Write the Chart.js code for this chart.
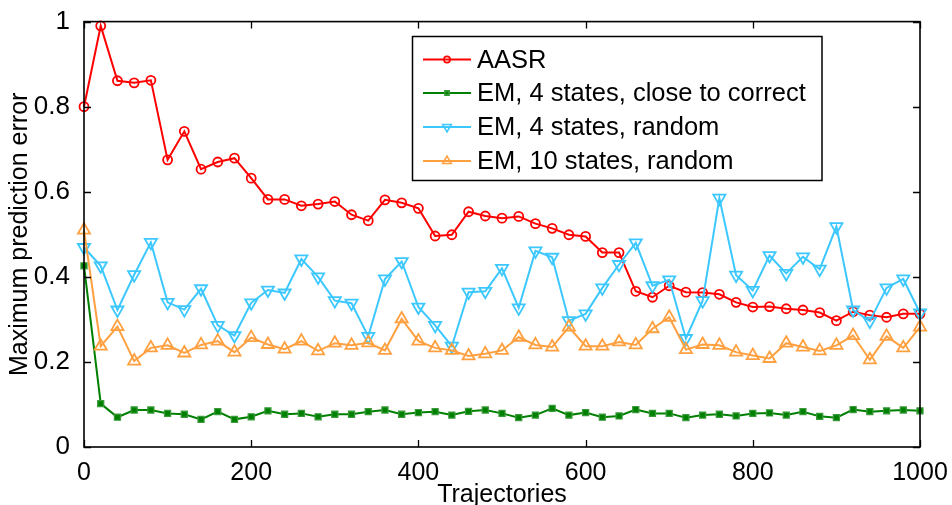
<!DOCTYPE html>
<html>
<head>
<meta charset="utf-8">
<script src="https://cdn.jsdelivr.net/npm/chart.js@4.4.0/dist/chart.umd.min.js"></script>
<style>
  html, body { margin: 0; padding: 0; background: #fff; }
  #wrap { width: 952px; height: 505px; }
</style>
</head>
<body>
<div id="wrap"><canvas id="myChart" width="952" height="505"></canvas></div>
<script>
const trajectories = [0, 20, 40, 60, 80, 100, 120, 140, 160, 180, 200, 220, 240, 260, 280, 300, 320, 340, 360, 380,
  400, 420, 440, 460, 480, 500, 520, 540, 560, 580, 600, 620, 640, 660, 680, 700, 720, 740, 760, 780,
  800, 820, 840, 860, 880, 900, 920, 940, 960, 980, 1000]

const aasr = [0.800, 0.990, 0.861, 0.856, 0.862, 0.675, 0.742, 0.653, 0.670, 0.679, 0.632, 0.582, 0.582, 0.567, 0.571, 0.577, 0.546,
  0.532, 0.581, 0.574, 0.561, 0.496, 0.499, 0.553, 0.543, 0.538, 0.542, 0.525, 0.514, 0.499, 0.495, 0.457, 0.457,
  0.366, 0.352, 0.379, 0.364, 0.363, 0.359, 0.340, 0.329, 0.330, 0.325, 0.322, 0.316, 0.297, 0.318, 0.310, 0.305, 0.313, 0.313]

const em4Close = [0.426, 0.102, 0.070, 0.087, 0.087, 0.079, 0.077, 0.065, 0.083, 0.065, 0.071, 0.085, 0.077, 0.079, 0.071, 0.077, 0.077,
  0.083, 0.087, 0.077, 0.081, 0.083, 0.075, 0.084, 0.087, 0.079, 0.069, 0.075, 0.091, 0.075, 0.081, 0.070, 0.073,
  0.088, 0.079, 0.079, 0.069, 0.075, 0.077, 0.073, 0.079, 0.080, 0.075, 0.083, 0.072, 0.069, 0.088, 0.083, 0.085, 0.087, 0.085]

const em4Random = [0.469, 0.426, 0.322, 0.405, 0.481, 0.340, 0.323, 0.372, 0.286, 0.262, 0.339, 0.369, 0.362, 0.442, 0.400, 0.344, 0.338,
  0.260, 0.395, 0.436, 0.329, 0.286, 0.237, 0.364, 0.366, 0.420, 0.327, 0.461, 0.446, 0.297, 0.313, 0.374, 0.429,
  0.480, 0.379, 0.393, 0.255, 0.344, 0.585, 0.404, 0.368, 0.450, 0.408, 0.447, 0.418, 0.518, 0.322, 0.296, 0.374, 0.395, 0.315]

const em10Random = [0.510, 0.237, 0.283, 0.202, 0.233, 0.239, 0.221, 0.240, 0.249, 0.223, 0.257, 0.241, 0.230, 0.249, 0.226, 0.244, 0.239,
  0.245, 0.227, 0.301, 0.249, 0.233, 0.227, 0.214, 0.219, 0.227, 0.258, 0.240, 0.235, 0.282, 0.237, 0.237, 0.247,
  0.240, 0.278, 0.305, 0.229, 0.241, 0.239, 0.223, 0.215, 0.208, 0.244, 0.235, 0.226, 0.239, 0.262, 0.205, 0.260, 0.233, 0.282]

const seriesLabels = ['AASR', 'EM, 4 states, close to correct', 'EM, 4 states, random', 'EM, 10 states, random']
const xTickValues = [0, 200, 400, 600, 800, 1000]
const yTickValues = [0, 0.2, 0.4, 0.6, 0.8, 1]

const fontName = '"Liberation Sans", Arial, Helvetica, sans-serif'
const red = '#FF0000'
const green = '#008000'
const cyan = '#3CC8FF'
const orange = '#FFA040'

const toPoints = (ys) => ys.map((y, i) => ({ x: trajectories[i], y: y }))

// box, inward ticks and legend, matlab style
const matlabBox = {
  id: 'matlabBox',
  afterDatasetsDraw(chart) {
    const { ctx, chartArea: a, scales } = chart
    const tick = 7
    ctx.save()
    ctx.strokeStyle = '#000'
    ctx.lineWidth = 1.3
    ctx.beginPath()
    xTickValues.forEach(v => {
      const px = Math.round(scales.x.getPixelForValue(v)) + 0.5
      ctx.moveTo(px, a.bottom); ctx.lineTo(px, a.bottom - tick)
      ctx.moveTo(px, a.top); ctx.lineTo(px, a.top + tick)
    })
    yTickValues.forEach(v => {
      const py = Math.round(scales.y.getPixelForValue(v)) + 0.5
      ctx.moveTo(a.left, py); ctx.lineTo(a.left + tick, py)
      ctx.moveTo(a.right, py); ctx.lineTo(a.right - tick, py)
    })
    ctx.stroke()
    ctx.lineWidth = 1.6
    ctx.strokeRect(a.left, a.top, a.right - a.left, a.bottom - a.top)

    // legend
    const lx = 412.5, ly = 36.5, lw = 409.5, lh = 144
    ctx.fillStyle = '#fff'
    ctx.fillRect(lx, ly, lw, lh)
    ctx.lineWidth = 1.5
    ctx.strokeRect(lx, ly, lw, lh)
    const rowY = [59.5, 93, 127, 161]
    ctx.font = '25.5px ' + fontName
    ctx.textBaseline = 'middle'
    ctx.textAlign = 'left'
    chart.data.datasets.forEach((ds, i) => {
      const y = rowY[i]
      ctx.strokeStyle = ds.borderColor
      ctx.lineWidth = 2
      ctx.beginPath()
      ctx.moveTo(423, y); ctx.lineTo(471, y)
      ctx.stroke()
      ctx.fillStyle = ds.pointBackgroundColor
      ctx.strokeStyle = ds.pointBorderColor
      ctx.lineWidth = 1.6
      Chart.helpers.drawPoint(ctx, {
        pointStyle: ds.pointStyle,
        rotation: ds.pointRotation || 0,
        radius: ds.pointRadius * 0.7,
        borderWidth: 1.6
      }, 447, y)
      ctx.fillStyle = '#000'
      ctx.fillText(ds.label, 477, y + 1)
    })
    ctx.restore()
  }
}

const ctx = document.getElementById('myChart')

new Chart(ctx, {
  type: 'line',
  data: {
    datasets: [
      {
        label: seriesLabels[0], data: toPoints(aasr), borderColor: red, backgroundColor: red,
        pointStyle: 'circle', pointRadius: 4.5, pointBorderWidth: 1.8, pointBorderColor: red,
        pointBackgroundColor: 'rgba(0,0,0,0)', borderWidth: 2, order: 3, clip: false
      },
      {
        label: seriesLabels[1], data: toPoints(em4Close), borderColor: green, backgroundColor: green,
        pointStyle: 'rect', pointRadius: 4.3, pointBorderWidth: 1.2, pointBorderColor: '#3a9a3a',
        pointBackgroundColor: green, borderWidth: 2, order: 2, clip: false
      },
      {
        label: seriesLabels[2], data: toPoints(em4Random), borderColor: cyan, backgroundColor: cyan,
        pointStyle: 'triangle', pointRotation: 180, pointRadius: 7, pointBorderWidth: 1.8, pointBorderColor: cyan,
        pointBackgroundColor: 'rgba(0,0,0,0)', borderWidth: 2, order: 1, clip: false
      },
      {
        label: seriesLabels[3], data: toPoints(em10Random), borderColor: orange, backgroundColor: orange,
        pointStyle: 'triangle', pointRadius: 7, pointBorderWidth: 1.8, pointBorderColor: orange,
        pointBackgroundColor: 'rgba(0,0,0,0)', borderWidth: 2, order: 0, clip: false
      }
    ]
  },
  options: {
    responsive: false,
    animation: false,
    devicePixelRatio: 1,
    layout: { padding: { top: 20, right: 32, left: 0, bottom: 0 } },
    plugins: {
      legend: { display: false },
      tooltip: { enabled: false }
    },
    scales: {
      x: {
        type: 'linear', min: 0, max: 1000,
        grid: { display: false },
        border: { display: false },
        ticks: {
          stepSize: 200, padding: 3, color: '#000', maxRotation: 0,
          font: { family: fontName, size: 25 },
          callback: (v) => String(v)
        },
        title: {
          display: true, text: 'Trajectories', color: '#000',
          font: { family: fontName, size: 25 }, padding: { top: 0, bottom: -5 }
        },
        afterFit: (scale) => { scale.height = 58 }
      },
      y: {
        type: 'linear', min: 0, max: 1,
        grid: { display: false },
        border: { display: false },
        ticks: {
          stepSize: 0.2, padding: 6, color: '#000',
          font: { family: fontName, size: 26 },
          callback: (v) => String(Math.round(v * 10) / 10)
        },
        title: {
          display: true, text: 'Maximum prediction error', color: '#000',
          font: { family: fontName, size: 25 }, padding: { top: 5, bottom: 0 }
        },
        afterFit: (scale) => { scale.width = 84 }
      }
    }
  },
  plugins: [matlabBox]
})
</script>
</body>
</html>
